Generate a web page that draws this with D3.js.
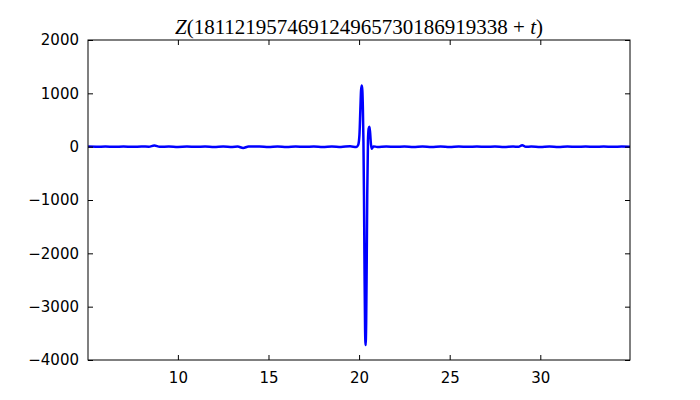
<!DOCTYPE html>
<html>
<head>
<meta charset="utf-8">
<script src="https://cdn.jsdelivr.net/npm/d3@7"></script>
<style>
  body { margin: 0; background: #fff; }
</style>
</head>
<body>
<div id="chart"></div>
<script>
// sample points t and Z(N + t)
const tValues = [
  5.05, 5.5, 6.0, 6.5, 7.0, 7.5, 8.0, 8.4, 8.7, 9.0, 9.5, 10.0, 10.5, 11.0, 11.5, 12.0,
  12.5, 13.0, 13.3, 13.6, 13.9, 14.5, 15.0, 15.5, 16.0, 16.5, 17.0, 17.5, 18.0, 18.5,
  19.0, 19.5, 19.85, 19.95, 20.02, 20.07, 20.11, 20.15, 20.18, 20.21, 20.24, 20.27,
  20.3, 20.33, 20.36, 20.39, 20.42, 20.45, 20.49, 20.53, 20.57, 20.61, 20.65, 20.69,
  20.74, 20.8, 21.0, 21.5, 22.0, 22.5, 23.0, 23.5, 24.0, 24.5, 25.0, 25.5, 26.0, 26.5,
  27.0, 27.5, 28.0, 28.5, 28.8, 29.0, 29.2, 29.5, 30.0, 30.5, 31.0, 31.5, 32.0, 32.5,
  33.0, 33.5, 34.0, 34.5, 34.95
];
const zValues = [
  1, -2, 2, -3, 2, -2, 3, -1, 22, -2, 3, -4, 2, -3, 3, -4,
  3, -4, 2, -25, 2, 4, -4, 3, -5, 4, -3, 4, -4, 5,
  -4, 6, -5, 30, 220, 700, 1060, 1145, 1050, 700, 100, -900,
  -2300, -3400, -3720, -3300, -2200, -900, 120, 340, 375, 260, 60, -40,
  -20, 5, -4, 4, -3, 4, -4, 3, -4, 3, -4, 4, -3, 4,
  -3, 4, -4, 3, -2, 28, -3, 4, -4, 3, -4, 3, -3, 4,
  -3, 4, -3, 2, -2
];
const xTicks = [10, 15, 20, 25, 30];
const yTicks = [-4000, -3000, -2000, -1000, 0, 1000, 2000];
const titleNumber = "181121957469124965730186919338";

const width = 700, height = 400;
const margin = { top: 40, right: 70, bottom: 40, left: 88 };
const plotW = width - margin.left - margin.right;
const plotH = height - margin.top - margin.bottom;

const data = tValues.map((t, i) => ({ t: t, z: zValues[i] }));

const svg = d3.select("#chart").append("svg")
  .attr("width", width)
  .attr("height", height);

const g = svg.append("g")
  .attr("transform", `translate(${margin.left},${margin.top})`);

const x = d3.scaleLinear().domain([5.04, 34.95]).range([0, plotW]);
const y = d3.scaleLinear().domain([-4000, 2000]).range([plotH, 0]);

const fmt = d => d < 0 ? "\u2212" + Math.abs(d) : String(d);

g.append("clipPath").attr("id", "clip")
  .append("rect").attr("width", plotW).attr("height", plotH);

g.append("path")
  .datum(data)
  .attr("clip-path", "url(#clip)")
  .attr("fill", "none")
  .attr("stroke", "#0000ff")
  .attr("stroke-width", 2.5)
  .attr("stroke-linejoin", "round")
  .attr("d", d3.line().x(d => x(d.t)).y(d => y(d.z)).curve(d3.curveMonotoneX));

function styleAxis(sel) {
  sel.select(".domain").remove();
  sel.selectAll(".tick line").attr("stroke", "#000").attr("stroke-width", 1);
  sel.selectAll(".tick text")
    .attr("font-family", "DejaVu Sans, sans-serif")
    .attr("font-size", 15)
    .attr("fill", "#000");
}

g.append("g")
  .attr("transform", `translate(0,${plotH})`)
  .call(d3.axisBottom(x).tickValues(xTicks).tickSize(-5).tickPadding(12).tickFormat(fmt))
  .call(styleAxis);

g.append("g")
  .call(d3.axisTop(x).tickValues(xTicks).tickSize(-5).tickFormat(""))
  .call(styleAxis);

g.append("g")
  .call(d3.axisLeft(y).tickValues(yTicks).tickSize(-5).tickPadding(9).tickFormat(fmt))
  .call(styleAxis);

g.append("g")
  .attr("transform", `translate(${plotW},0)`)
  .call(d3.axisRight(y).tickValues(yTicks).tickSize(-5).tickFormat(""))
  .call(styleAxis);

g.append("rect")
  .attr("width", plotW)
  .attr("height", plotH)
  .attr("fill", "none")
  .attr("stroke", "#000")
  .attr("stroke-width", 1);

const title = svg.append("text")
  .attr("x", margin.left + plotW / 2)
  .attr("y", 34)
  .attr("text-anchor", "middle")
  .attr("font-family", "Liberation Serif, serif")
  .attr("font-size", 21)
  .attr("fill", "#000");
title.append("tspan").attr("font-style", "italic").text("Z");
title.append("tspan").text("(" + titleNumber + " + ");
title.append("tspan").attr("font-style", "italic").text("t");
title.append("tspan").text(")");
</script>
</body>
</html>
